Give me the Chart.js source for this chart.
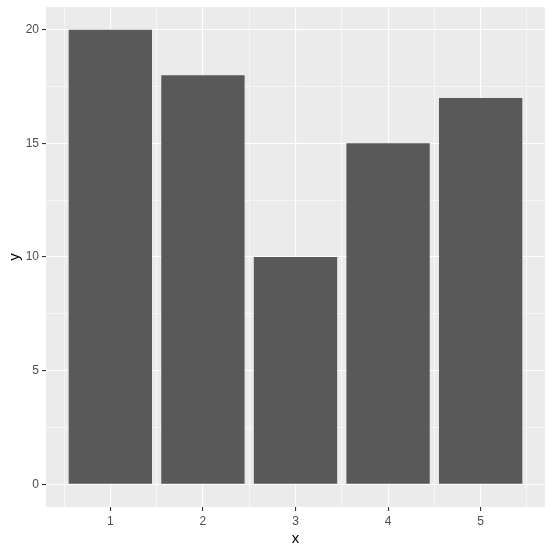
<!DOCTYPE html>
<html>
<head>
<meta charset="utf-8">
<script src="https://cdn.jsdelivr.net/npm/chart.js@4/dist/chart.umd.min.js"></script>
<style>
html,body{margin:0;padding:0;background:#fff;}
#wrap{width:553px;height:552px;}
</style>
</head>
<body>
<div id="wrap"><canvas id="c" width="553" height="552"></canvas></div>
<script>
const categories = [1, 2, 3, 4, 5];
const values = [20, 18, 10, 15, 17];
const xMajorTicks = [1, 2, 3, 4, 5];
const xMinorTicks = [0.5, 1.5, 2.5, 3.5, 4.5, 5.5];
const yMajorTicks = [0, 5, 10, 15, 20];
const yMinorTicks = [2.5, 7.5, 12.5, 17.5];

const FONT = "'Liberation Sans', Arial, sans-serif";

const panelBg = {
  id: 'panelBg',
  beforeDraw(chart) {
    const {ctx, chartArea: a} = chart;
    ctx.save();
    ctx.fillStyle = '#EBEBEB';
    ctx.fillRect(a.left, a.top, a.right - a.left, a.bottom - a.top);
    ctx.restore();
  }
};

function mkTicks(major, minor) {
  return major.map(v => ({value: v, major: true}))
    .concat(minor.map(v => ({value: v, major: false})))
    .sort((a, b) => a.value - b.value);
}
const isMajor = (ctx) => ctx.tick && ctx.tick.major;

new Chart(document.getElementById('c'), {
  type: 'bar',
  data: {
    datasets: [{
      data: categories.map((c, i) => ({x: c, y: values[i]})),
      backgroundColor: '#595959',
      borderWidth: 0,
      // sample spacing is the half-unit minor tick interval, so 1.8 -> 0.9 of a unit
      barPercentage: 1.8,
      categoryPercentage: 1.0
    }]
  },
  plugins: [panelBg],
  options: {
    responsive: false,
    animation: false,
    events: [],
    layout: {padding: {left: 0, top: 7, right: 8, bottom: 0}},
    plugins: {legend: {display: false}, tooltip: {enabled: false}},
    scales: {
      x: {
        type: 'linear',
        min: 0.305,
        max: 5.695,
        offset: false,
        afterBuildTicks: (s) => { s.ticks = mkTicks(xMajorTicks, xMinorTicks); },
        afterFit: (s) => { s.height = 45; s.paddingLeft = 0; s.paddingRight = 0; },
        border: {display: false},
        grid: {
          offset: false,
          color: '#FFFFFF',
          lineWidth: (ctx) => isMajor(ctx) ? 1.1 : 0.55,
          drawTicks: true,
          tickLength: 4,
          tickColor: (ctx) => isMajor(ctx) ? '#333333' : 'rgba(0,0,0,0)',
          tickWidth: 1.1
        },
        ticks: {
          autoSkip: false,
          maxRotation: 0,
          padding: 3,
          color: '#4D4D4D',
          font: {family: FONT, size: 12},
          callback: (v) => xMajorTicks.includes(v) ? String(v) : ''
        },
        title: {display: true, text: 'x', color: '#000000', font: {family: FONT, size: 15}, padding: {top: 0, bottom: 4}}
      },
      y: {
        type: 'linear',
        min: -1,
        max: 21,
        afterBuildTicks: (s) => { s.ticks = mkTicks(yMajorTicks, yMinorTicks); },
        afterFit: (s) => { s.width = 46; s.paddingTop = 0; s.paddingBottom = 0; },
        border: {display: false},
        grid: {
          color: '#FFFFFF',
          lineWidth: (ctx) => isMajor(ctx) ? 1.1 : 0.55,
          drawTicks: true,
          tickLength: 4,
          tickColor: (ctx) => isMajor(ctx) ? '#333333' : 'rgba(0,0,0,0)',
          tickWidth: 1.1
        },
        ticks: {
          autoSkip: false,
          padding: 3,
          color: '#4D4D4D',
          font: {family: FONT, size: 12},
          callback: (v) => yMajorTicks.includes(v) ? String(v) : ''
        },
        title: {display: true, text: 'y', color: '#000000', font: {family: FONT, size: 15}, padding: {top: 6, bottom: 0}}
      }
    }
  }
});
</script>
</body>
</html>
